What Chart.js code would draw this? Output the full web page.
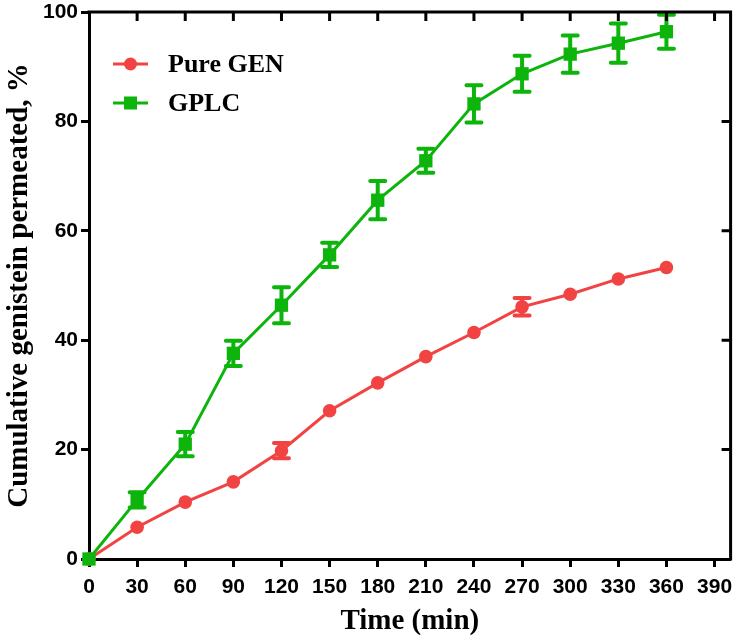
<!DOCTYPE html>
<html>
<head>
<meta charset="utf-8">
<script src="https://cdn.jsdelivr.net/npm/chart.js@4.4.0/dist/chart.umd.min.js"></script>
<style>
  html, body { margin: 0; padding: 0; background: #fff; }
  #wrap { width: 740px; height: 641px; }
</style>
</head>
<body>
<div id="wrap"><canvas id="permeationChart" width="740" height="641"></canvas></div>
<script>
// data
const timePoints = [0, 30, 60, 90, 120, 150, 180, 210, 240, 270, 300, 330, 360];
const pureGenValues = [0, 5.8, 10.4, 14.1, 19.8, 27.1, 32.2, 37.0, 41.4, 46.1, 48.4, 51.2, 53.3];
const pureGenErrors = [0, 0, 0, 0, 1.4, 0, 0, 0, 0, 1.6, 0, 0, 0];
const gplcValues = [0, 10.8, 21.0, 37.6, 46.4, 55.6, 65.6, 72.8, 83.2, 88.7, 92.3, 94.3, 96.4];
const gplcErrors = [0, 1.4, 2.2, 2.3, 3.3, 2.2, 3.5, 2.2, 3.4, 3.3, 3.4, 3.6, 3.1];
const xTickValues = [0, 30, 60, 90, 120, 150, 180, 210, 240, 270, 300, 330, 360, 390];
const yTickValues = [0, 20, 40, 60, 80, 100];
const seriesLabels = ['Pure GEN', 'GPLC'];

const RED = '#F24343';
const GREEN = '#0CB40C';
const SERIF = '"Liberation Serif", "Times New Roman", serif';
const SANS = '"Liberation Sans", Arial, sans-serif';

function toPoints(values) {
  return timePoints.map((t, i) => ({ x: t, y: values[i] }));
}

// vertical error bars with caps, under the markers
const errorBars = {
  id: 'errorBars',
  beforeDatasetsDraw(chart) {
    const { ctx, scales: { x, y } } = chart;
    chart.data.datasets.forEach(ds => {
      if (!ds.errors) return;
      ctx.save();
      ctx.strokeStyle = ds.borderColor;
      ctx.lineWidth = 4;
      ctx.lineCap = 'round';
      ds.data.forEach((p, j) => {
        const e = ds.errors[j];
        if (!e) return;
        const px = x.getPixelForValue(p.x);
        const top = y.getPixelForValue(p.y + e);
        const bot = y.getPixelForValue(p.y - e);
        ctx.beginPath();
        ctx.moveTo(px, top); ctx.lineTo(px, bot);
        ctx.moveTo(px - 7.5, top); ctx.lineTo(px + 7.5, top);
        ctx.moveTo(px - 7.5, bot); ctx.lineTo(px + 7.5, bot);
        ctx.stroke();
      });
      ctx.restore();
    });
  }
};

// closed frame with inward ticks on top and right
const frame = {
  id: 'frame',
  afterDraw(chart) {
    const { ctx, chartArea: a, scales: { x, y } } = chart;
    ctx.save();
    ctx.strokeStyle = '#000';
    ctx.lineWidth = 3;
    ctx.beginPath();
    ctx.moveTo(a.left - 1.5, a.top);
    ctx.lineTo(a.right, a.top);
    ctx.lineTo(a.right, a.bottom + 1.5);
    ctx.stroke();
    ctx.beginPath();
    xTickValues.forEach(v => {
      if (v === 0) return;
      const px = x.getPixelForValue(v);
      ctx.moveTo(px, a.top); ctx.lineTo(px, a.top + 9);
    });
    yTickValues.forEach(v => {
      if (v === 0 || v === 100) return;
      const py = y.getPixelForValue(v);
      ctx.moveTo(a.right, py); ctx.lineTo(a.right - 9, py);
    });
    ctx.stroke();
    ctx.restore();
  }
};

// legend inside the plot, line + marker sample
const insideLegend = {
  id: 'insideLegend',
  afterDraw(chart) {
    const ctx = chart.ctx;
    const rows = [64, 103];
    chart.data.datasets.forEach((ds, i) => {
      const cy = rows[i];
      ctx.save();
      ctx.strokeStyle = ds.borderColor;
      ctx.fillStyle = ds.borderColor;
      ctx.lineWidth = 3;
      ctx.beginPath();
      ctx.moveTo(113, cy); ctx.lineTo(148, cy);
      ctx.stroke();
      if (ds.pointStyle === 'circle') {
        ctx.beginPath();
        ctx.arc(130.5, cy, 6.5, 0, Math.PI * 2);
        ctx.fill();
      } else {
        ctx.fillRect(124, cy - 6.5, 13, 13);
      }
      ctx.fillStyle = '#000';
      ctx.font = 'bold 26px ' + SERIF;
      ctx.textBaseline = 'middle';
      ctx.textAlign = 'left';
      ctx.fillText(ds.label, 168, cy + 1);
      ctx.restore();
    });
  }
};

// keep tick labels from pushing the plot area in
function noEdgePadding(scale) {
  scale.paddingTop = 0;
  scale.paddingBottom = 0;
  scale.paddingLeft = 0;
  scale.paddingRight = 0;
}

const chart = new Chart(document.getElementById('permeationChart'), {
  type: 'line',
  data: {
    datasets: [{
      label: seriesLabels[0],
      data: toPoints(pureGenValues),
      errors: pureGenErrors,
      borderColor: RED,
      backgroundColor: RED,
      borderWidth: 3,
      pointStyle: 'circle',
      pointRadius: 6.8,
      pointBorderWidth: 0,
      pointBackgroundColor: RED,
      clip: false,
      order: 1
    }, {
      label: seriesLabels[1],
      data: toPoints(gplcValues),
      errors: gplcErrors,
      borderColor: GREEN,
      backgroundColor: GREEN,
      borderWidth: 3,
      pointStyle: 'rect',
      pointRadius: 9.4,
      pointBorderWidth: 0,
      pointBackgroundColor: GREEN,
      clip: false,
      order: 0
    }]
  },
  options: {
    responsive: false,
    animation: false,
    layout: {
      padding: { top: 12, right: 7, left: 0, bottom: 0 }
    },
    scales: {
      x: {
        type: 'linear',
        min: 0,
        max: 400,
        afterBuildTicks: scale => {
          scale.ticks = xTickValues.map(v => ({ value: v }));
        },
        afterFit: scale => { scale.height = 82; noEdgePadding(scale); },
        border: { display: true, color: '#000', width: 3 },
        grid: {
          drawOnChartArea: false,
          drawTicks: true,
          tickLength: 8,
          tickWidth: 3,
          tickColor: '#000'
        },
        ticks: {
          color: '#000',
          padding: 8,
          maxRotation: 0,
          font: { family: SANS, size: 21, weight: 'bold' }
        },
        title: {
          display: true,
          text: 'Time (min)',
          color: '#000',
          padding: { top: 0, bottom: 2 },
          font: { family: SERIF, size: 29, weight: 'bold' }
        }
      },
      y: {
        min: 0,
        max: 100,
        afterBuildTicks: scale => {
          scale.ticks = yTickValues.map(v => ({ value: v }));
        },
        afterFit: scale => { scale.width = 89; noEdgePadding(scale); },
        border: { display: true, color: '#000', width: 3 },
        grid: {
          drawOnChartArea: false,
          drawTicks: true,
          tickLength: 8,
          tickWidth: 3,
          tickColor: '#000'
        },
        ticks: {
          color: '#000',
          padding: 3,
          font: { family: SANS, size: 21, weight: 'bold' }
        },
        title: {
          display: true,
          text: 'Cumulative genistein permeated, %',
          color: '#000',
          padding: { top: 2, bottom: 0 },
          font: { family: SERIF, size: 29, weight: 'bold' }
        }
      }
    },
    plugins: {
      legend: { display: false },
      tooltip: { enabled: false }
    }
  },
  plugins: [errorBars, frame, insideLegend]
});
</script>
</body>
</html>
